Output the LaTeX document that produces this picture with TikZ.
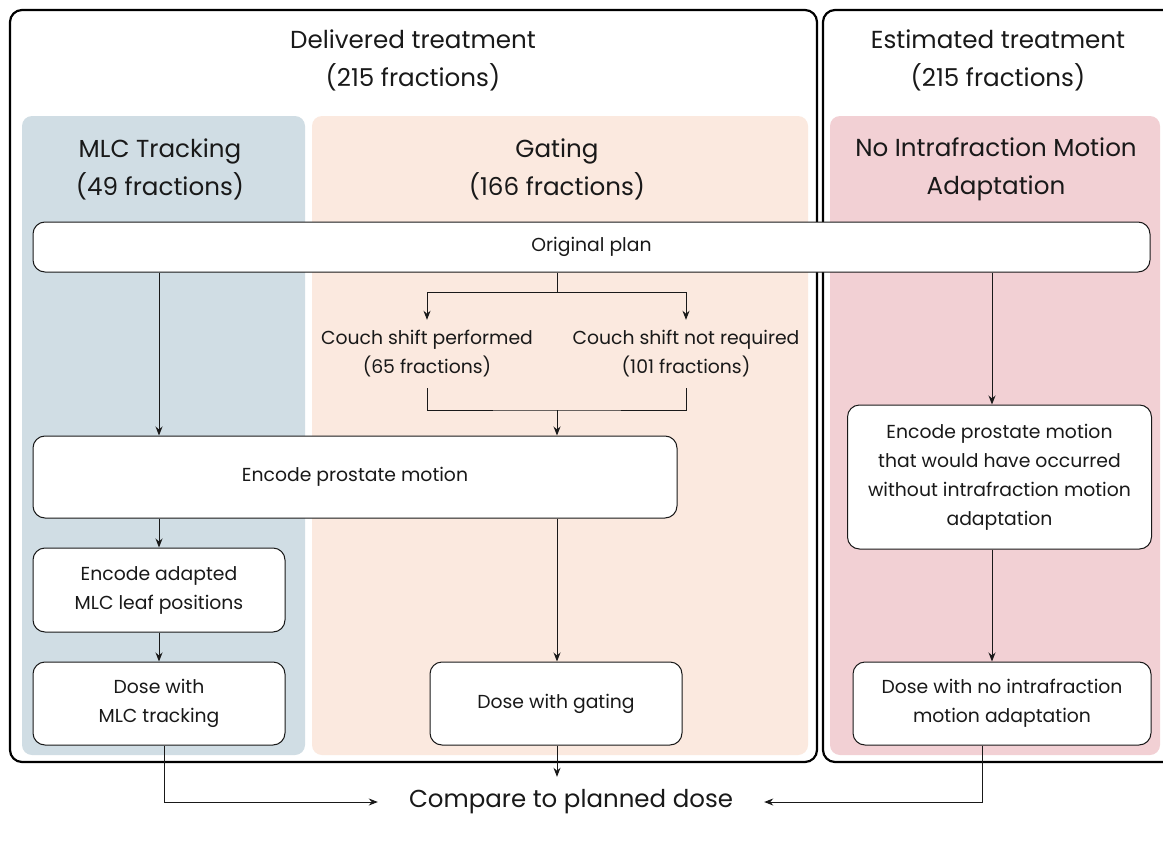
\documentclass[tikz,border=0pt]{standalone}
\usepackage{fontspec}
\setmainfont{Poppins}
\usetikzlibrary{arrows.meta}
\definecolor{blueP}{RGB}{208,221,228}
\definecolor{peachP}{RGB}{251,233,223}
\definecolor{pinkP}{RGB}{242,208,212}
\definecolor{ink}{RGB}{25,25,25}
\begin{document}
\begin{tikzpicture}[x=1pt,y=-1pt,
  box/.style={draw=ink, line width=1pt, rounded corners=12pt, fill=white, align=center,
    font=\fontsize{18.8}{29}\selectfont, inner sep=0pt, text=ink},
  frame/.style={draw=black, line width=2.2pt, rounded corners=12pt},
  panel/.style={rounded corners=10pt},
  arr/.style={draw=ink, line width=1pt, -{Stealth[length=9pt,width=7pt]}},
  ln/.style={draw=ink, line width=1pt},
  hd/.style={font=\fontsize{24.6}{38}\selectfont, align=center, text=ink},
  lbl/.style={font=\fontsize{18.8}{29}\selectfont, align=center, text=ink, inner sep=0pt}]
\clip (0,0) rectangle (1163,843);
\fill[white] (0,0) rectangle (1163,843);
% frames
\draw[frame] (10,10) rectangle (817,762);
\draw[frame] (823,10) rectangle (1175,762);
% panels
\fill[panel, blueP] (22,116) rectangle (305,755);
\fill[panel, peachP] (312,116) rectangle (808,755);
\fill[panel, pinkP] (830,116) rectangle (1160,755);
% headings
\node[hd] (tdel) at (413,60) {Delivered treatment\\(215 fractions)};
\node[hd] (test) at (998,60) {Estimated treatment\\(215 fractions)};
\node[hd] (tmlc) at (160,169) {MLC Tracking\\(49 fractions)};
\node[hd] (tgat) at (557,169) {Gating\\(166 fractions)};
\node[hd] (tno) at (996,169) {No Intrafraction Motion\\Adaptation};
% boxes
\node[box, minimum width=1117pt, minimum height=50pt] (orig) at (591.5,247) {Original plan};
\node[lbl, minimum height=68pt] (cs1) at (427,354) {Couch shift performed\\(65 fractions)};
\node[lbl, minimum height=68pt] (cs2) at (686,354) {Couch shift not required\\(101 fractions)};
\node[box, minimum width=644pt, minimum height=82pt] (enc) at (355,477) {Encode prostate motion};
\node[box, minimum width=252pt, minimum height=84pt] (adapt) at (159,590) {Encode adapted\\MLC leaf positions};
\node[box, minimum width=252pt, minimum height=83pt] (dmlc) at (159,703.5) {Dose with\\MLC tracking};
\node[box, minimum width=252pt, minimum height=83pt] (dgat) at (556,703.5) {Dose with gating};
\node[box, minimum width=304pt, minimum height=144pt] (encE) at (999.5,477) {Encode prostate motion\\that would have occurred\\without intrafraction motion\\adaptation};
\node[box, minimum width=298pt, minimum height=83pt] (dnoE) at (1002,703.5) {Dose with no intrafraction\\motion adaptation};
\node[font=\fontsize{24.5}{28}\selectfont, text=ink, inner ysep=0pt, inner xsep=31pt, minimum height=50pt] (cmp) at (571,802) {Compare to planned dose};
% coordinates
\coordinate (gsplit) at (557,292);
\coordinate (gjoin) at (557,410);
\coordinate (eax) at (992,0);
\coordinate (mlcout) at (164,0);
\coordinate (noout) at (982,0);
\coordinate (cmpx) at (557,0);
% connectors
\draw[arr] (orig.south -| adapt.north) -- (enc.north -| adapt.north);
\draw[ln] (orig.south -| gsplit) -- (gsplit);
\draw[arr] (gsplit) -| (cs1.north);
\draw[arr] (gsplit) -| (cs2.north);
\draw[ln] (cs1.south) |- (gjoin) -| (cs2.south);
\draw[arr] (gjoin) -- (enc.north -| gjoin);
\draw[arr] (enc.south -| adapt.north) -- (adapt.north);
\draw[arr] (adapt.south) -- (dmlc.north);
\draw[arr] (enc.south -| gjoin) -- (dgat.north -| gjoin);
\draw[arr] (orig.south -| eax) -- (encE.north -| eax);
\draw[arr] (encE.south -| eax) -- (dnoE.north -| eax);
\draw[arr] (dgat.south -| cmpx) -- (cmp.north -| cmpx);
\draw[arr] (dmlc.south -| mlcout) |- (cmp.west);
\draw[arr] (dnoE.south -| noout) |- (cmp.east);
\end{tikzpicture}
\end{document}
